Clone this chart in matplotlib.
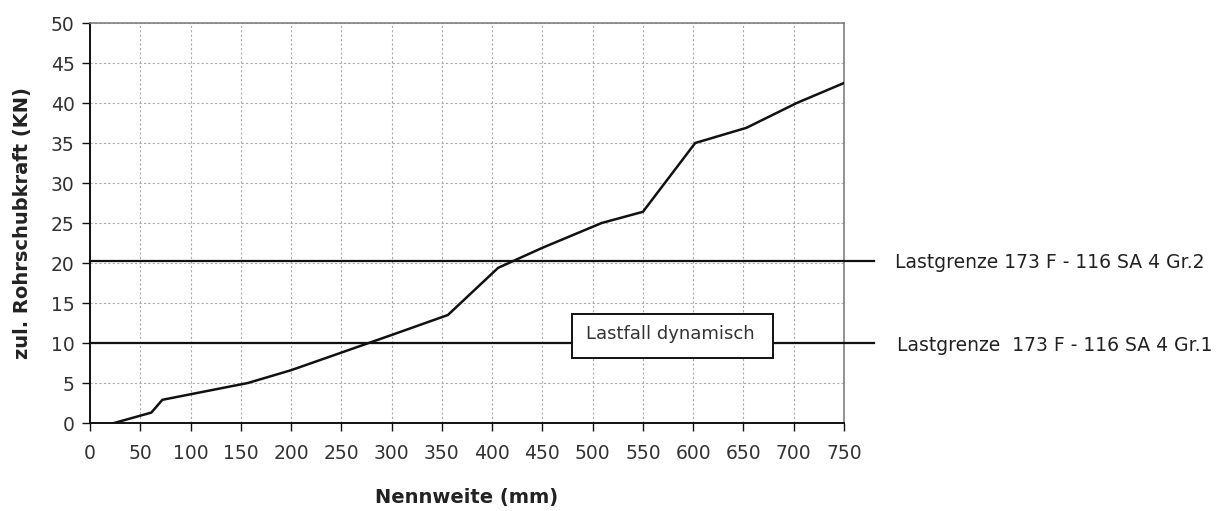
import matplotlib
matplotlib.use("Agg")
import matplotlib.pyplot as plt
from matplotlib.patches import Rectangle

plt.rcParams['font.family'] = ['DejaVu Sans']

# Data
nennweite = [24, 61, 72, 157, 200, 250, 300, 356, 406, 450, 509, 550, 602, 653, 703, 750]
schubkraft = [0.0, 1.3, 2.9, 5.0, 6.6, 8.8, 11.0, 13.5, 19.4, 21.9, 25.0, 26.4, 35.0, 36.9, 40.0, 42.5]
limit_values = [20.3, 10.0]
limit_labels = ["Lastgrenze 173 F - 116 SA 4 Gr.2", "Lastgrenze  173 F - 116 SA 4 Gr.1"]
x_ticks = list(range(0, 751, 50))
y_ticks = list(range(0, 51, 5))
box_text = "Lastfall dynamisch"

W, H = 1232, 511
fig = plt.figure(figsize=(W / 100, H / 100), dpi=100)
ax = fig.add_axes([90 / W, 1 - 423 / H, (844 - 90) / W, (423 - 23) / H])

ax.set_xlim(0, 750)
ax.set_ylim(0, 50)
ax.set_xticks(x_ticks)
ax.set_yticks(y_ticks)
ax.grid(True, color='#aaaaaa', linestyle=(0, (2, 2)), linewidth=0.8)
ax.set_axisbelow(True)

for s in ['top', 'right']:
    ax.spines[s].set_color('#808080')
    ax.spines[s].set_linewidth(1.2)
for s in ['left', 'bottom']:
    ax.spines[s].set_color('#111111')
    ax.spines[s].set_linewidth(1.4)

ax.tick_params(axis='both', direction='out', length=6, width=1.0, color='#111111',
               labelsize=13.5, labelcolor='#333333')
ax.tick_params(axis='y', pad=5)
ax.tick_params(axis='x', pad=9)

# Limit lines extending beyond the axes
for v in limit_values:
    ax.plot([0, 780], [v, v], color='#111111', linewidth=1.6, clip_on=False, zorder=3)

# Main curve
ax.plot(nennweite, schubkraft, color='#111111', linewidth=1.8, zorder=4, solid_joinstyle='miter')

# Box "Lastfall dynamisch"
bx0 = (572 - 90) / 1.0053
bx1 = (773 - 90) / 1.0053
by0 = (423 - 358) / 8.0
by1 = (423 - 314) / 8.0
ax.add_patch(Rectangle((bx0, by0), bx1 - bx0, by1 - by0, facecolor='white',
                       edgecolor='#111111', linewidth=1.4, zorder=5))
ax.text((bx0 + bx1) / 2 - 2, (423 - 333.5) / 8.0, box_text, ha='center', va='center',
        fontsize=13, color='#333333', zorder=6)

# Right labels
fig.text(895 / W, 1 - 262 / H, limit_labels[0], ha='left', va='center', fontsize=13.5, color='#222222')
fig.text(897 / W, 1 - 345 / H, limit_labels[1], ha='left', va='center', fontsize=13.5, color='#222222')

# Axis labels
fig.text(467 / W, 1 - 497 / H, "Nennweite (mm)", ha='center', va='center', fontsize=14,
         fontweight='bold', color='#222222')
fig.text(23 / W, 1 - 223 / H, "zul. Rohrschubkraft (KN)", ha='center', va='center', fontsize=14,
         fontweight='bold', color='#222222', rotation=90)

fig.savefig("out.png", dpi=100, facecolor='white')
